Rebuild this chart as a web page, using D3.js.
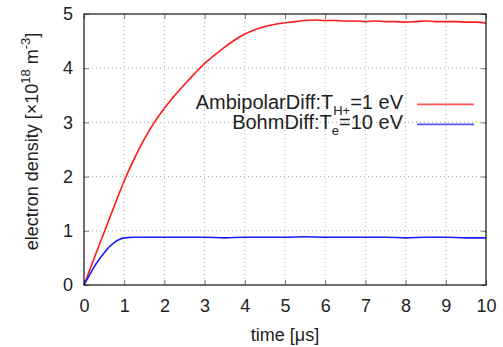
<!DOCTYPE html>
<html>
<head>
<meta charset="utf-8">
<script src="https://cdn.jsdelivr.net/npm/d3@7"></script>
<style>
  body { margin: 0; background: #fff; }
  text { font-family: "Liberation Sans", Arial, sans-serif; fill: #222; }
</style>
</head>
<body>
<div id="chart"></div>
<script>
// Data (time in microseconds, density in 1e18 m^-3)
var ambiTime = [0, 0.25, 0.5, 0.75, 1, 1.25, 1.5, 1.75, 2, 2.25, 2.5, 2.75, 3, 3.25, 3.5, 3.75, 4,
                4.25, 4.5, 4.75, 5, 5.25, 5.5, 5.75, 6, 6.25, 6.5, 6.75, 7, 7.25, 7.5, 7.75, 8,
                8.25, 8.5, 8.75, 9, 9.25, 9.5, 9.75, 10];
var ambiDensity = [0, 0.49, 0.97, 1.45, 1.92, 2.33, 2.69, 3.00, 3.26, 3.49, 3.70, 3.90, 4.09, 4.24, 4.39, 4.52, 4.63,
                   4.71, 4.77, 4.81, 4.84, 4.86, 4.88, 4.89, 4.88, 4.88, 4.87, 4.87, 4.86, 4.87, 4.86, 4.86, 4.85,
                   4.86, 4.87, 4.86, 4.86, 4.86, 4.85, 4.85, 4.83];

var bohmTime = [0, 0.125, 0.25, 0.375, 0.5, 0.625, 0.75, 0.875, 1, 1.25, 1.5, 2, 2.5, 3, 3.5, 4, 4.5,
                5, 5.5, 6, 6.5, 7, 7.5, 8, 8.5, 9, 9.5, 10];
var bohmDensity = [0, 0.17, 0.33, 0.47, 0.59, 0.70, 0.78, 0.84, 0.87, 0.88, 0.88, 0.88, 0.88, 0.88, 0.87, 0.88, 0.88,
                   0.88, 0.89, 0.88, 0.88, 0.88, 0.88, 0.87, 0.88, 0.88, 0.87, 0.87];

var xTicks = [0, 1, 2, 3, 4, 5, 6, 7, 8, 9, 10];
var yTicks = [0, 1, 2, 3, 4, 5];

var svgWidth = 503;
var svgHeight = 347;

var margins = {
    top: 14,
    right: 17,
    bottom: 62,
    left: 84
};

var width = svgWidth - margins.left - margins.right;
var height = svgHeight - margins.top - margins.bottom;

var svg = d3.select("#chart")
            .append("svg")
            .attr("width", svgWidth)
            .attr("height", svgHeight);

var chartGroup = svg.append("g")
                    .attr("transform", `translate(${margins.left}, ${margins.top})`);

var xScale = d3.scaleLinear().domain([0, 10]).range([0, width]);
var yScale = d3.scaleLinear().domain([0, 5]).range([height, 0]);

// Dotted grid
chartGroup.append("g")
    .selectAll("line")
    .data(xTicks.slice(1, -1))
    .enter()
    .append("line")
    .attr("x1", d => xScale(d)).attr("x2", d => xScale(d))
    .attr("y1", 0).attr("y2", height)
    .attr("stroke", "#aaa")
    .attr("stroke-width", 1)
    .attr("stroke-dasharray", "1,3");

chartGroup.append("g")
    .selectAll("line")
    .data(yTicks.slice(1, -1))
    .enter()
    .append("line")
    .attr("x1", 0).attr("x2", width)
    .attr("y1", d => yScale(d)).attr("y2", d => yScale(d))
    .attr("stroke", "#aaa")
    .attr("stroke-width", 1)
    .attr("stroke-dasharray", "1,3");

// Axes with inward ticks (gnuplot style, mirrored)
var bottomAxis = d3.axisBottom(xScale).tickValues(xTicks).tickSize(-5).tickPadding(14).tickFormat(d3.format("d"));
var topAxis = d3.axisTop(xScale).tickValues(xTicks).tickSize(-5).tickFormat("");
var leftAxis = d3.axisLeft(yScale).tickValues(yTicks).tickSize(-5).tickPadding(11).tickFormat(d3.format("d"));
var rightAxis = d3.axisRight(yScale).tickValues(yTicks).tickSize(-5).tickFormat("");

function styleAxis(g) {
    g.select(".domain").remove();
    g.selectAll(".tick line").attr("stroke", "#777").attr("stroke-width", 1);
    g.selectAll(".tick text")
        .attr("font-size", "18px")
        .attr("font-family", "'Liberation Sans', Arial, sans-serif")
        .attr("fill", "#222");
}

chartGroup.append("g").attr("transform", `translate(0,${height})`).call(bottomAxis).call(styleAxis);
chartGroup.append("g").call(topAxis).call(styleAxis);
chartGroup.append("g").call(leftAxis).call(styleAxis);
chartGroup.append("g").attr("transform", `translate(${width},0)`).call(rightAxis).call(styleAxis);

// Curves
var line = d3.line()
    .x(d => xScale(d[0]))
    .y(d => yScale(d[1]))
    .curve(d3.curveMonotoneX);

chartGroup.append("path")
    .datum(d3.zip(ambiTime, ambiDensity))
    .attr("d", line)
    .attr("fill", "none")
    .attr("stroke", "#ff1a1a")
    .attr("stroke-width", 1.6);

chartGroup.append("path")
    .datum(d3.zip(bohmTime, bohmDensity))
    .attr("d", line)
    .attr("fill", "none")
    .attr("stroke", "#1a1aff")
    .attr("stroke-width", 1.6);

// Frame
chartGroup.append("rect")
    .attr("x", 0).attr("y", 0)
    .attr("width", width).attr("height", height)
    .attr("fill", "none")
    .attr("stroke", "#111")
    .attr("stroke-width", 1.2);

// Legend
var legend = svg.append("g");
var legendRows = [
    { main: "AmbipolarDiff:T", sub: "H+", rest: "=1 eV", color: "#ff5555", y: 108.7 },
    { main: "BohmDiff:T", sub: "e", rest: "=10 eV", color: "#5555ff", y: 128.7 }
];

legendRows.forEach(function(row) {
    var t = legend.append("text")
        .attr("x", 403)
        .attr("y", row.y)
        .attr("text-anchor", "end")
        .attr("font-size", "20px");
    t.append("tspan").text(row.main);
    t.append("tspan").attr("font-size", "13px").attr("dy", 6).text(row.sub);
    t.append("tspan").attr("dy", -6).text(row.rest);

    legend.append("line")
        .attr("x1", 417).attr("x2", 474)
        .attr("y1", row.y - 4.3).attr("y2", row.y - 4.3)
        .attr("stroke", row.color)
        .attr("stroke-width", 1.8);
});

// Axis titles
svg.append("text")
    .attr("x", margins.left + width / 2)
    .attr("y", 341)
    .attr("text-anchor", "middle")
    .attr("font-size", "18px")
    .text("time [μs]");

var yTitle = svg.append("text")
    .attr("transform", "translate(38, 141.5) rotate(-90)")
    .attr("text-anchor", "middle")
    .attr("font-size", "18px");
yTitle.append("tspan").text("electron density [×10");
yTitle.append("tspan").attr("font-size", "13px").attr("dy", -8).text("18");
yTitle.append("tspan").attr("dy", 8).text(" m");
yTitle.append("tspan").attr("font-size", "13px").attr("dy", -8).text("-3");
yTitle.append("tspan").attr("dy", 8).text("]");
</script>
</body>
</html>
